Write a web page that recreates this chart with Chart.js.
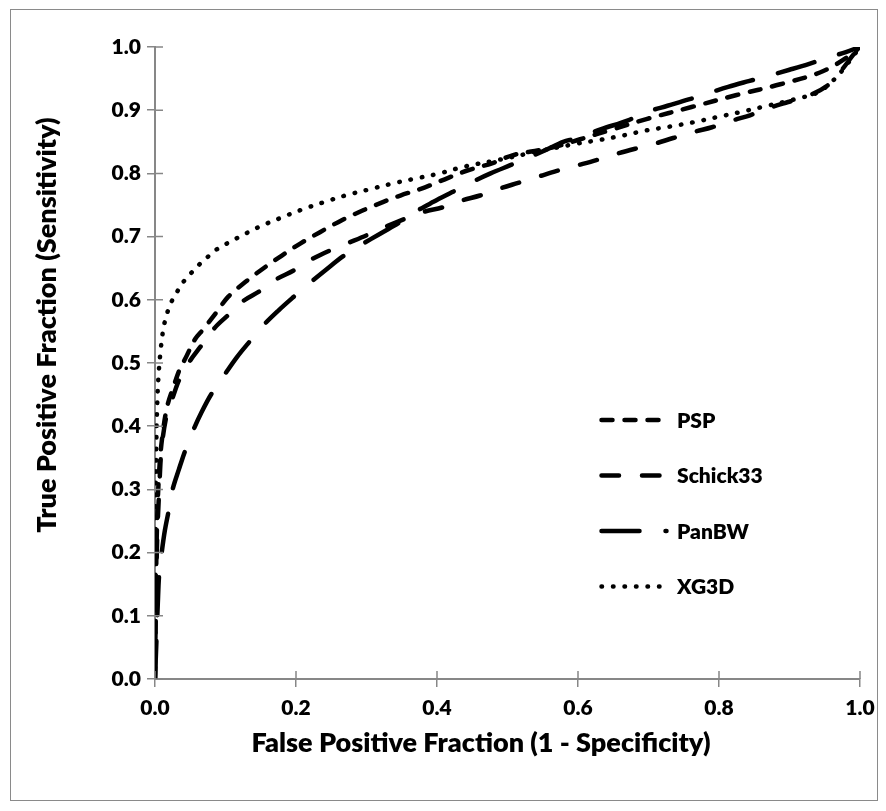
<!DOCTYPE html>
<html>
<head>
<meta charset="utf-8">
<script src="https://cdn.jsdelivr.net/npm/chart.js@4.4.1/dist/chart.umd.min.js"></script>
<style>
  body { margin: 0; background: #fff; }
  #roc { display: block; }
</style>
</head>
<body>
<canvas id="roc" width="886" height="811"></canvas>
<script>
// ROC curves, values
const seriesNames = ['PSP', 'Schick33', 'PanBW', 'XG3D'];

const pspFpf = [0, 0.001, 0.003, 0.006, 0.010, 0.017, 0.027, 0.035, 0.043, 0.057, 0.069, 0.087, 0.104, 0.128, 0.154, 0.180, 0.206, 0.234, 0.265, 0.296, 0.324, 0.348, 0.383, 0.416, 0.444, 0.478, 0.508, 0.546, 0.574, 0.603, 0.650, 0.697, 0.761, 0.825, 0.887, 0.948, 0.990, 1.0];
const pspTpf = [0, 0.12, 0.25, 0.33, 0.38, 0.43, 0.465, 0.49, 0.507, 0.538, 0.554, 0.580, 0.605, 0.628, 0.650, 0.670, 0.689, 0.707, 0.726, 0.742, 0.755, 0.765, 0.778, 0.793, 0.805, 0.816, 0.829, 0.837, 0.844, 0.854, 0.870, 0.886, 0.905, 0.924, 0.941, 0.962, 0.990, 1.0];

const schickFpf = [0, 0.001, 0.003, 0.006, 0.0095, 0.017, 0.025, 0.035, 0.050, 0.064, 0.085, 0.104, 0.125, 0.149, 0.173, 0.196, 0.222, 0.248, 0.274, 0.300, 0.330, 0.381, 0.407, 0.435, 0.461, 0.489, 0.515, 0.544, 0.570, 0.600, 0.626, 0.655, 0.681, 0.709, 0.735, 0.766, 0.790, 0.820, 0.844, 0.875, 0.898, 0.927, 0.955, 0.975, 0.990, 1.0];
const schickTpf = [0, 0.10, 0.22, 0.30, 0.367, 0.42, 0.445, 0.475, 0.504, 0.525, 0.556, 0.576, 0.598, 0.614, 0.633, 0.646, 0.664, 0.678, 0.690, 0.702, 0.717, 0.739, 0.746, 0.757, 0.765, 0.776, 0.785, 0.795, 0.804, 0.813, 0.821, 0.831, 0.839, 0.847, 0.856, 0.866, 0.873, 0.884, 0.892, 0.905, 0.913, 0.923, 0.940, 0.965, 0.987, 1.0];

const panFpf = [0, 0.002, 0.004, 0.006, 0.0095, 0.014, 0.019, 0.025, 0.034, 0.043, 0.054, 0.066, 0.080, 0.099, 0.116, 0.135, 0.154, 0.175, 0.196, 0.220, 0.243, 0.267, 0.291, 0.320, 0.348, 0.369, 0.395, 0.421, 0.449, 0.476, 0.504, 0.532, 0.556, 0.579, 0.596, 0.633, 0.671, 0.697, 0.727, 0.757, 0.785, 0.813, 0.842, 0.872, 0.900, 0.927, 0.957, 0.980, 1.0];
const panTpf = [0, 0.06, 0.12, 0.167, 0.20, 0.235, 0.264, 0.30, 0.332, 0.362, 0.393, 0.422, 0.451, 0.482, 0.509, 0.535, 0.560, 0.583, 0.604, 0.627, 0.648, 0.669, 0.686, 0.705, 0.723, 0.739, 0.755, 0.770, 0.786, 0.800, 0.813, 0.826, 0.838, 0.850, 0.855, 0.870, 0.884, 0.897, 0.907, 0.917, 0.927, 0.937, 0.946, 0.955, 0.964, 0.973, 0.984, 0.992, 1.0];

const xgFpf = [0, 0.0005, 0.001, 0.002, 0.003, 0.005, 0.008, 0.012, 0.017, 0.023, 0.031, 0.040, 0.051, 0.063, 0.076, 0.088, 0.117, 0.147, 0.177, 0.209, 0.241, 0.273, 0.305, 0.337, 0.370, 0.400, 0.440, 0.490, 0.540, 0.598, 0.631, 0.664, 0.697, 0.730, 0.764, 0.797, 0.830, 0.861, 0.910, 0.940, 0.960, 0.975, 0.990, 1.0];
const xgTpf = [0, 0.15, 0.30, 0.38, 0.43, 0.48, 0.52, 0.555, 0.578, 0.596, 0.612, 0.628, 0.642, 0.656, 0.669, 0.680, 0.698, 0.715, 0.729, 0.743, 0.755, 0.766, 0.775, 0.784, 0.792, 0.799, 0.811, 0.822, 0.834, 0.847, 0.853, 0.860, 0.868, 0.874, 0.881, 0.889, 0.897, 0.905, 0.918, 0.928, 0.945, 0.963, 0.985, 1.0];

const xTickValues = [0, 0.2, 0.4, 0.6, 0.8, 1.0];
const yTickValues = [0, 0.1, 0.2, 0.3, 0.4, 0.5, 0.6, 0.7, 0.8, 0.9, 1.0];
const xTitle = 'False Positive Fraction (1 - Specificity)';
const yTitle = 'True Positive Fraction (Sensitivity)';

function pairUp(xs, ys) {
    return xs.map((x, i) => ({ x: x, y: ys[i] }));
}

const FONT = 'Lato, "Open Sans", sans-serif';
const WEIGHT = '800';
const AXIS_GREY = '#878787';

// dash patterns: short dash, dash, long dash(-dot), round dot
const dashes = [[11, 12], [17.5, 23], [38, 26], [0.5, 11]];
const xs = [pspFpf, schickFpf, panFpf, xgFpf];
const ys = [pspTpf, schickTpf, panTpf, xgTpf];

const datasets = seriesNames.map((name, i) => ({
    label: name,
    data: pairUp(xs[i], ys[i]),
    showLine: true,
    borderColor: '#000',
    borderWidth: 4.5,
    borderDash: dashes[i],
    borderCapStyle: 'round',
    borderJoinStyle: 'round',
    pointRadius: 0,
    tension: 0.35,
    fill: false
}));

// frame, axis titles, ticks that cross the axis line, and the in-plot legend
const decorations = {
    id: 'decorations',
    beforeDraw(chart) {
        const ctx = chart.ctx;
        ctx.save();
        ctx.fillStyle = '#fff';
        ctx.fillRect(0, 0, chart.width, chart.height);
        ctx.strokeStyle = '#8a8a8a';
        ctx.lineWidth = 1;
        ctx.strokeRect(10.5, 9.5, 867, 791);

        // axis titles (placed as in the original, not centred on the plot)
        ctx.fillStyle = '#000';
        ctx.font = WEIGHT + ' 27px ' + FONT;
        ctx.textAlign = 'center';
        ctx.textBaseline = 'middle';
        ctx.fillText(xTitle, 481, 743);
        ctx.translate(47, 325);
        ctx.rotate(-Math.PI / 2);
        ctx.fillText(yTitle, 0, 0);
        ctx.restore();
    },
    afterDatasetsDraw(chart) {
        const ctx = chart.ctx;
        const xs = chart.scales.x, ys = chart.scales.y;
        ctx.save();
        ctx.strokeStyle = AXIS_GREY;
        ctx.lineWidth = 1.5;
        ctx.beginPath();
        xTickValues.forEach(v => {
            const px = xs.getPixelForValue(v);
            ctx.moveTo(px, ys.bottom);
            ctx.lineTo(px, ys.bottom - 8);
        });
        yTickValues.forEach(v => {
            const py = ys.getPixelForValue(v);
            ctx.moveTo(xs.left, py);
            ctx.lineTo(xs.left + 8, py);
        });
        ctx.stroke();

        // legend
        const startX = 601.5, sampleLen = 65, textX = 677;
        let rowY = 420;
        chart.data.datasets.forEach(ds => {
            ctx.strokeStyle = '#000';
            ctx.lineWidth = ds.borderWidth;
            ctx.lineCap = 'round';
            ctx.setLineDash(ds.borderDash);
            ctx.beginPath();
            ctx.moveTo(startX, rowY);
            ctx.lineTo(startX + sampleLen, rowY);
            ctx.stroke();
            ctx.setLineDash([]);
            ctx.fillStyle = '#000';
            ctx.font = WEIGHT + ' 21px ' + FONT;
            ctx.textBaseline = 'middle';
            ctx.textAlign = 'left';
            ctx.fillText(ds.label, textX, rowY + 1);
            rowY += 55.5;
        });
        ctx.restore();
    }
};

const ctx = document.getElementById('roc').getContext('2d');
const rocChart = new Chart(ctx, {
    type: 'scatter',
    data: { datasets: datasets },
    options: {
        responsive: false,
        animation: false,
        layout: { padding: { left: 10, right: 26, top: 47, bottom: 10 } },
        plugins: {
            legend: { display: false },
            tooltip: { enabled: false }
        },
        scales: {
            x: {
                type: 'linear',
                min: 0,
                max: 1,
                afterFit: s => { s.height = 122; },
                afterBuildTicks: s => { s.ticks = xTickValues.map(v => ({ value: v })); },
                grid: { drawOnChartArea: false, color: AXIS_GREY, lineWidth: 1.5, tickLength: 8 },
                border: { color: AXIS_GREY, width: 2 },
                ticks: {
                    color: '#000',
                    padding: 9,
                    font: { family: FONT, size: 21, weight: WEIGHT },
                    callback: v => v.toFixed(1)
                }
            },
            y: {
                type: 'linear',
                min: 0,
                max: 1,
                afterFit: s => { s.width = 145; },
                afterBuildTicks: s => { s.ticks = yTickValues.map(v => ({ value: v })); },
                grid: { drawOnChartArea: false, color: AXIS_GREY, lineWidth: 1.5, tickLength: 8 },
                border: { color: AXIS_GREY, width: 2 },
                ticks: {
                    color: '#000',
                    padding: 6,
                    font: { family: FONT, size: 21, weight: WEIGHT },
                    callback: v => v.toFixed(1)
                }
            }
        }
    },
    plugins: [decorations]
});
</script>
</body>
</html>
